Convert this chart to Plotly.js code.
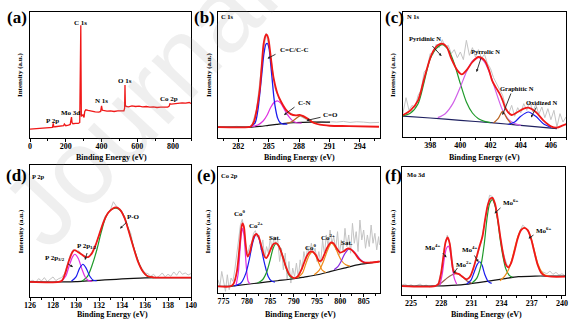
<!DOCTYPE html>
<html><head><meta charset="utf-8">
<script src="https://cdn.plot.ly/plotly-3.0.1.min.js"></script>
<style>html,body{margin:0;padding:0;background:#fff}#chart{width:576px;height:328px}</style>
</head><body><div id="chart"></div>
<script>
// ---------- (a) survey ----------
const a_x = [0,20,40,60,80,100,115,125,130,133,140,160,180,188,192,200,215,225,229,232,235,240,255,270,278,281,283,284,285,287,290,296,302,306,312,325,345,365,385,395,400,404,410,430,450,470,490,510,525,529,531,533,537,550,570,590,610,630,650,670,690,710,730,750,770,778,782,790,810,830,850,870,890,900];
const a_y = [27,28,28,30,29,31,32,32,44,33,34,35,35,37,42,37,39,41,55,63,46,43,44,44,47,160,320,340,230,65,67,70,62,80,85,83,80,79,78,80,97,84,83,81,82,80,82,81,82,90,160,100,95,94,97,95,96,94,95,93,94,92,93,92,93,96,103,102,104,105,106,105,107,104];
const a_labels = ["C 1s","O 1s","N 1s","Co 2p","Mo 3d","P 2p"];

// ---------- (b) C 1s ----------
const b_raw_x = [280.03,280.86,281.84,282.83,283.33,283.82,284.31,284.74,285.14,285.63,286.12,286.78,287.44,288.10,288.76,289.25,289.74,290.24,290.73,291.23,291.72,292.38,293.04,293.70,294.35,295.01,295.90];
const b_raw_y = [34,33,35,33,36,88,218,315,262,150,112,82,70,66,55,50,48,50,47,49,48,50,47,49,48,46,47];
const b_fit_x = [280.0,283.0,283.26,283.56,283.82,284.12,284.31,284.51,284.71,284.81,284.97,285.17,285.37,285.53,285.86,286.22,286.72,287.18,287.67,288.07,288.43,288.92,289.42,290.07,291.03,292.94,295.90];
const b_fit_y = [33,33,35,50,85,145,215,285,310,312,300,255,205,175,135,110,85,72,68,70,66,57,46,40,37,36,34];
const b_cc_x = [283.16,283.65,283.92,284.15,284.35,284.54,284.74,284.87,285.04,285.20,285.37,285.53,285.70,285.89,286.12,286.45,286.85];
const b_cc_y = [34,45,80,140,200,255,283,285,270,225,170,120,85,60,47,42,42];
const b_cn_x = [283.33,283.98,284.48,284.87,285.20,285.53,285.86,286.19,286.58,286.98,287.37,287.77,288.26];
const b_cn_y = [34,40,52,70,92,107,112,105,85,65,52,46,45];
const b_co_x = [286.78,287.28,287.70,288.10,288.49,288.92,289.35,289.74];
const b_co_y = [44,49,59,67,63,55,48,45];
const b_bg_x = [280.03,283.33,284.15,284.97,285.79,286.62,287.44,288.43,289.74,291.06];
const b_bg_y = [33,33,35,38,41,44,46,47,48,48];
const b_labels = ["C 1s","C=C/C-C","C-N","C=O"];

// ---------- (c) N 1s ----------
const c_raw_x = [396.2,396.4,396.6,396.8,397.0,397.2,397.4,397.6,397.8,398.0,398.2,398.4,398.6,398.8,399.0,399.2,399.4,399.6,399.8,400.0,400.2,400.4,400.6,400.8,401.0,401.2,401.4,401.6,401.8,402.0,402.2,402.4,402.6,402.8,403.0,403.2,403.4,403.6,403.8,404.0,404.2,404.4,404.6,404.8,405.0,405.2,405.4,405.6,405.8,406.0,406.2,406.4,406.6,406.8,407.0];
const c_raw_y = [72,118,80,95,88,125,140,195,205,250,248,278,268,292,270,275,250,262,238,255,232,290,245,268,240,262,236,248,220,205,178,160,140,125,92,70,95,62,88,72,100,80,108,75,98,68,90,58,85,52,80,30,70,45,60];
const c_fit_x = [396.15,396.7,397.2,397.6,398.1,398.5,398.8,399.1,399.4,399.8,400.1,400.4,400.8,401.2,401.6,401.9,402.1,402.4,402.6,402.8,403.0,403.4,403.8,404.2,404.5,405.0,405.5,406.0,406.4,406.8,407.1];
const c_fit_y = [65,80,110,175,248,275,280,270,235,200,188,200,225,240,230,200,170,145,130,110,85,66,75,85,88,75,50,32,28,35,40];
const c_pyd_x = [396.15,396.7,397.2,397.6,398.0,398.4,398.8,399.2,399.6,400.0,400.4,400.8,401.2,401.6,402.0];
const c_pyd_y = [63,72,100,165,235,265,277,262,220,160,105,72,55,47,43];
const c_pyr_x = [398.5,399.0,399.5,400.0,400.4,400.8,401.2,401.6,402.0,402.4,402.8,403.2,403.6,404.0];
const c_pyr_y = [58,70,100,150,195,228,238,225,185,130,80,52,40,35];
const c_gra_x = [402.2,402.5,402.8,403.1,403.4];
const c_gra_y = [42,55,77,55,38];
const c_oxi_x = [403.2,403.6,404.0,404.5,405.0,405.5,406.0];
const c_oxi_y = [38,45,62,75,62,40,29];
const c_bg_x = [396.15,398,400,402,404,406.4];
const c_bg_y = [63,57,50,43,35,25];
const c_labels = ["N 1s","Pyridinic N","Pyrrolic N","Graphitic N","Oxidized N"];

// ---------- (d) P 2p ----------
const d_raw_x = [126.0,126.25,126.5,126.75,127.0,127.25,127.5,127.75,128.0,128.25,128.5,128.75,129.0,129.25,129.5,129.75,130.0,130.25,130.5,130.75,131.0,131.25,131.5,131.75,132.0,132.25,132.5,132.75,133.0,133.25,133.5,133.75,134.0,134.25,134.5,134.75,135.0,135.25,135.5,135.75,136.0,136.25,136.5,136.75,137.0,137.25,137.5,137.75,138.0,138.25,138.5,138.75,139.0,139.25,139.5,139.75,140.0];
const d_raw_y = [47,50,44,55,48,58,46,52,60,49,55,58,70,98,125,142,136,138,126,124,118,128,140,160,182,210,240,252,262,285,272,266,252,240,210,192,150,128,100,85,72,70,62,68,58,63,72,60,68,62,75,65,78,68,72,66,70];
const d_fit_x = [126.0,128.5,128.8,129.1,129.4,129.7,129.9,130.2,130.5,130.8,131.1,131.4,131.7,132.0,132.4,132.8,133.2,133.5,133.8,134.2,134.6,135.0,135.4,135.8,136.2,136.7,137.5,140.0];
const d_fit_y = [45,45,50,75,110,135,140,134,127,120,120,132,155,185,225,252,265,268,262,238,195,148,105,77,63,59,58,58];
const d_p32_x = [128.7,129.1,129.4,129.7,129.9,130.2,130.5,130.8,131.1,131.4];
const d_p32_y = [46,62,92,120,128,115,85,60,49,47];
const d_p12_x = [129.6,130.0,130.3,130.6,130.9,131.2,131.5,131.8];
const d_p12_y = [47,60,85,98,85,62,50,49];
const d_po_x = [130.5,131.0,131.4,131.8,132.2,132.6,133.0,133.5,133.9,134.3,134.7,135.1,135.5,135.9,136.3,136.8];
const d_po_y = [47,62,95,140,195,240,260,266,258,230,185,138,98,72,61,58];
const d_bg_x = [126,129,130,131,132,133,134,135,136,137,140];
const d_bg_y = [45,45,46,48,50,52,54,56,57.5,58,58];
const d_labels = ["P 2p","P-O","P 2p<sub>3/2</sub>","P 2p<sub>1/2</sub>"];

// ---------- (e) Co 2p ----------
const e_raw_x = [773.8,774.2,774.6,775.0,775.4,775.8,776.2,776.6,777.0,777.4,777.8,778.2,778.6,779.0,779.4,779.8,780.2,780.6,781.0,781.4,781.8,782.2,782.6,783.0,783.4,783.8,784.2,784.6,785.0,785.4,785.8,786.2,786.6,787.0,787.4,787.8,788.2,788.6,789.0,789.4,789.8,790.2,790.6,791.0,791.4,791.8,792.2,792.6,793.0,793.4,793.8,794.2,794.6,795.0,795.4,795.8,796.2,796.6,797.0,797.4,797.8,798.2,798.6,799.0,799.4,799.8,800.2,800.6,801.0,801.4,801.8,802.2,802.6,803.0,803.4,803.8,804.2,804.6,805.0,805.4,805.8,806.2,806.6,807.0,807.4,807.8,808.2,808.4];
const e_raw_y = [40,20,65,30,5,55,10,45,35,70,110,165,205,222,190,135,120,145,150,180,188,168,175,130,160,105,140,120,165,130,170,145,160,95,135,70,120,40,95,30,75,50,90,45,100,70,125,95,140,115,150,120,135,95,125,90,160,115,175,140,190,150,170,130,185,115,160,125,195,140,175,120,210,150,185,125,220,160,190,135,175,140,205,150,180,130,170,145];
const e_fit_x = [773.72,776.43,777.14,777.85,778.42,778.85,779.06,779.35,779.70,780.13,780.56,781.06,781.56,781.98,782.48,783.13,783.70,784.12,784.69,785.26,785.83,786.26,786.83,787.54,788.33,789.11,790.11,790.97,791.82,792.61,793.32,794.03,794.74,795.46,795.96,796.53,797.24,797.95,798.52,799.23,799.95,800.66,801.51,802.23,803.08,804.01,805.08,806.50,808.43];
const e_fit_y = [20,20,28,65,140,200,210,200,150,110,120,150,172,178,170,140,112,105,118,138,149,150,142,115,80,55,45,52,75,105,122,125,115,97,98,115,138,152,150,135,122,125,134,132,120,102,92,92,95];
const e_co0a_x = [777.64,778.14,778.49,778.78,779.06,779.35,779.63,779.92,780.27,780.70];
const e_co0a_y = [22,60,125,175,195,175,125,70,35,28];
const e_co2a_x = [777.28,778.71,779.78,780.49,781.20,781.70,782.06,782.56,783.13,783.84,784.55,785.26,785.98];
const e_co2a_y = [21,30,60,100,150,172,178,165,130,85,50,36,33];
const e_sata_x = [782.27,783.34,784.27,784.98,785.62,786.26,786.97,787.69,788.40,789.11,789.83];
const e_sata_y = [30,40,65,100,135,150,138,110,75,52,44];
const e_co0b_x = [790.82,791.89,792.61,793.32,794.03,794.74,795.46,796.17,796.88];
const e_co0b_y = [46,60,88,113,125,112,88,68,62];
const e_co2b_x = [794.39,795.46,796.38,797.24,798.09,798.81,799.52,800.23,801.16,802.08];
const e_co2b_y = [55,68,95,128,150,140,118,98,85,81];
const e_satb_x = [798.66,799.52,800.23,800.94,801.87,802.80,803.65,804.51,805.43];
const e_satb_y = [70,80,97,118,133,126,112,98,91];
const e_bg_x = [773.72,776.43,777.64,782.27,786.55,790.11,792.25,795.10,797.95,800.80,803.65,806.50,808.43];
const e_bg_y = [20,20,22,30,37,43,48,55,65,75,85,91,95];
const e_labels = ["Co 2p","Co<sup>0</sup>","Co<sup>2+</sup>","Sat."];

// ---------- (f) Mo 3d ----------
const f_raw_x = [224.1,224.4,224.7,225.0,225.3,225.6,225.9,226.2,226.5,226.8,227.1,227.4,227.7,228.0,228.3,228.6,228.9,229.2,229.5,229.8,230.1,230.4,230.7,231.0,231.3,231.6,231.9,232.2,232.5,232.8,233.1,233.4,233.7,234.0,234.3,234.6,234.9,235.2,235.5,235.8,236.1,236.4,236.7,237.0,237.3,237.6,237.9,238.2,238.5,238.8,239.1,239.4,239.7,240.0,240.3];
const f_raw_y = [30,33,27,31,25,29,33,26,30,24,28,26,35,72,140,180,150,80,68,60,57,48,52,62,88,120,150,200,262,300,296,262,212,148,112,85,92,128,162,192,210,202,188,160,118,88,72,68,64,72,62,68,60,64,58];
const f_fit_x = [224.07,226.05,227.38,227.71,227.98,228.21,228.44,228.64,228.84,229.04,229.24,229.50,229.77,230.10,230.53,230.86,231.19,231.52,231.79,232.09,232.35,232.62,232.88,233.08,233.34,233.61,233.87,234.14,234.40,234.67,234.93,235.27,235.60,235.93,236.26,236.59,236.92,237.25,237.59,237.92,238.31,238.98,240.30];
const f_fit_y = [27,25,27,33,65,115,160,173,155,105,70,65,63,55,47,55,80,115,145,175,225,270,290,292,275,230,175,125,93,83,95,130,170,195,202,195,170,130,90,67,58,55,55];
const f_mo4a_x = [227.88,228.11,228.31,228.51,228.71,228.90,229.10,229.30,229.53];
const f_mo4a_y = [30,65,110,140,147,130,85,50,33];
const f_mo2_x = [227.55,228.04,228.54,229.04,229.53,230.03,230.53,231.03];
const f_mo2_y = [29,37,50,60,65,57,43,35];
const f_mo4b_x = [230.53,230.96,231.29,231.59,231.82,232.05,232.35,232.68,233.01];
const f_mo4b_y = [33,45,70,93,100,90,60,40,35];
const f_mo6a_x = [231.09,231.52,231.95,232.28,232.55,232.81,233.08,233.34,233.61,233.87,234.14,234.40,234.74,235.07];
const f_mo6a_y = [37,50,90,155,230,275,287,270,225,165,115,80,60,53];
const f_mo6b_x = [233.84,234.27,234.67,235.00,235.33,235.66,235.99,236.26,236.59,236.99,237.32,237.65,237.98,238.31,238.71];
const f_mo6b_y = [43,55,75,105,145,180,198,202,195,165,125,90,70,60,57];
const f_bg_x = [224.07,227.38,229.04,230.70,232.35,234.01,235.66,237.32,238.98,240.30];
const f_bg_y = [27,27,29,33,40,48,55,57,57,57];
const f_labels = ["Mo 3d","Mo<sup>4+</sup>","Mo<sup>2+</sup>","Mo<sup>6+</sup>"];

const panel_letters = ["(a)","(b)","(c)","(d)","(e)","(f)"];
const x_title = "Binding Energy (eV)";
const y_title = "Intensity (a.u.)";

// ---------- styling ----------
const W = 576, H = 328;
const PX = x => x / W, PY = y => 1 - y / H;
const SERIF = "Liberation Serif, Times New Roman, serif";
const RED = '#f01818', BLUE = '#1a1aee', MAG = '#e030e0', GREEN = '#1f9a2a', ORANGE = '#ee8c1a',
      BROWN = '#b8621e', GREY = '#c4c4c4', BLACK = '#111', NAVY = '#1e2060', PURPLE = '#8a2be2', MAG2 = '#d060e8', BRN2 = '#9b5a48';

function tr(x, y, color, width, ax, shape) {
  return {x: x, y: y, type: 'scatter', mode: 'lines', xaxis: 'x' + ax, yaxis: 'y' + ax,
          line: {color: color, width: width, shape: shape || 'spline', smoothing: 0.8},
          hoverinfo: 'skip', showlegend: false};
}
const data = [
  tr(a_x, a_y, RED, 1.3, '', 'linear'),

  tr(b_raw_x, b_raw_y, GREY, 1, 2, 'linear'),
  tr(b_bg_x, b_bg_y, BLACK, 1.2, 2),
  tr(b_cn_x, b_cn_y, MAG, 1.2, 2),
  tr(b_co_x, b_co_y, BROWN, 1.2, 2),
  tr(b_cc_x, b_cc_y, BLUE, 1.3, 2),
  tr(b_fit_x, b_fit_y, RED, 1.8, 2),

  tr(c_raw_x, c_raw_y, GREY, 1, 3, 'linear'),
  tr(c_bg_x, c_bg_y, NAVY, 1.2, 3),
  tr(c_pyd_x, c_pyd_y, GREEN, 1.2, 3),
  tr(c_pyr_x, c_pyr_y, MAG2, 1.2, 3),
  tr(c_gra_x, c_gra_y, BROWN, 1.2, 3),
  tr(c_oxi_x, c_oxi_y, BLUE, 1.2, 3),
  tr(c_fit_x, c_fit_y, RED, 1.8, 3),

  tr(d_raw_x, d_raw_y, GREY, 1, 4, 'linear'),
  tr(d_bg_x, d_bg_y, BLACK, 1.2, 4),
  tr(d_po_x, d_po_y, GREEN, 1.2, 4),
  tr(d_p32_x, d_p32_y, MAG, 1.2, 4),
  tr(d_p12_x, d_p12_y, BLUE, 1.2, 4),
  tr(d_fit_x, d_fit_y, RED, 1.8, 4),

  tr(e_raw_x, e_raw_y, GREY, 1, 5, 'linear'),
  tr(e_bg_x, e_bg_y, BLACK, 1.2, 5),
  tr(e_co0a_x, e_co0a_y, MAG, 1.2, 5),
  tr(e_co2a_x, e_co2a_y, BLUE, 1.2, 5),
  tr(e_sata_x, e_sata_y, GREEN, 1.2, 5),
  tr(e_co0b_x, e_co0b_y, ORANGE, 1.2, 5),
  tr(e_co2b_x, e_co2b_y, ORANGE, 1.2, 5),
  tr(e_satb_x, e_satb_y, PURPLE, 1.2, 5),
  tr(e_fit_x, e_fit_y, RED, 1.8, 5),

  tr(f_raw_x, f_raw_y, GREY, 1, 6, 'linear'),
  tr(f_bg_x, f_bg_y, BLACK, 1.2, 6),
  tr(f_mo2_x, f_mo2_y, BRN2, 1.2, 6),
  tr(f_mo4a_x, f_mo4a_y, MAG, 1.2, 6),
  tr(f_mo4b_x, f_mo4b_y, BLUE, 1.2, 6),
  tr(f_mo6a_x, f_mo6a_y, GREEN, 1.2, 6),
  tr(f_mo6b_x, f_mo6b_y, ORANGE, 1.2, 6),
  tr(f_fit_x, f_fit_y, RED, 1.8, 6)
];

// panel frames [left, right, top, bottom] in px, x range, y range, tick0, dtick
const frames = [
  {l: 30, r: 191, t: 12, b: 138, xr: [0, 900], yr: [0, 380], t0: 0, dt: 200},
  {l: 218, r: 380, t: 12, b: 138, xr: [280, 296], yr: [0, 380], t0: 282, dt: 3},
  {l: 403, r: 566, t: 12, b: 137, xr: [396.2, 407.0], yr: [0, 375], t0: 398, dt: 2},
  {l: 30, r: 191, t: 165, b: 297, xr: [126, 140], yr: [0, 395], t0: 126, dt: 2},
  {l: 218, r: 380, t: 167, b: 293, xr: [773.8, 808.5], yr: [0, 380], t0: 775, dt: 5},
  {l: 402, r: 565, t: 167, b: 295, xr: [224.1, 240.3], yr: [0, 385], t0: 225, dt: 3}
];

const layout = {
  width: W, height: H, autosize: false,
  margin: {l: 0, r: 0, t: 0, b: 0, pad: 0},
  paper_bgcolor: '#fff', plot_bgcolor: 'rgba(0,0,0,0)',
  font: {family: SERIF, color: '#000'},
  showlegend: false,
  annotations: []
};
frames.forEach((f, i) => {
  const s = i === 0 ? '' : String(i + 1);
  layout['xaxis' + s] = {
    domain: [PX(f.l), PX(f.r)], range: f.xr, anchor: 'y' + s,
    tick0: f.t0, dtick: f.dt, ticks: 'outside', ticklen: 2.5, tickwidth: 1, tickcolor: '#000',
    ticklabelstandoff: -2,
    minor: {dtick: f.dt / 2, ticks: 'outside', ticklen: 1.5, tickwidth: 1, tickcolor: '#000', showgrid: false},
    showline: true, mirror: true, linecolor: '#000', linewidth: 1,
    showgrid: false, zeroline: false,
    tickfont: {family: SERIF, size: 8, color: '#000', weight: 'bold'}
  };
  layout['yaxis' + s] = {
    domain: [PY(f.b), PY(f.t)], range: f.yr, anchor: 'x' + s,
    showticklabels: false, ticks: '', showline: true, mirror: true, linecolor: '#000', linewidth: 1,
    showgrid: false, zeroline: false
  };
});

function T(text, x, y, size, extra) {
  return Object.assign({text: '<b>' + text + '</b>', xref: 'paper', yref: 'paper', x: PX(x), y: PY(y),
    xanchor: 'center', yanchor: 'middle', showarrow: false,
    font: {family: SERIF, size: size, color: '#000'}}, extra || {});
}
function A(tx, ty, hx, hy) {
  return {text: '', xref: 'paper', yref: 'paper', x: PX(hx), y: PY(hy), axref: 'pixel', ayref: 'pixel',
    ax: tx - hx, ay: ty - hy, showarrow: true, arrowhead: 2, arrowsize: 0.6, arrowwidth: 0.9,
    arrowcolor: '#222', standoff: 0, startstandoff: 0};
}
const ann = layout.annotations;
// watermark
ann.push({text: 'Journal', xref: 'paper', yref: 'paper', x: PX(139), y: PY(103), xanchor: 'center', yanchor: 'middle',
  showarrow: false, textangle: -47,
  font: {family: 'Liberation Sans, Arial, sans-serif', size: 105, color: 'rgba(150,150,150,0.15)'}});

// panel letters, axis titles
const letterPos = [[17, 17], [204, 17], [394, 17], [16, 175], [206, 175], [393, 175]];
panel_letters.forEach((t, i) => ann.push(T(t, letterPos[i][0], letterPos[i][1], 17)));
const xtPos = [[111, 157.5], [299, 157.5], [484, 157.5], [112, 314.5], [300, 314.5], [486, 314.5]];
xtPos.forEach(p => ann.push(T(x_title, p[0], p[1], 8)));
const ytPos = [[20, 75], [209, 75], [393, 75], [20.5, 232], [207.5, 232], [392.5, 232]];
ytPos.forEach(p => ann.push(T(y_title, p[0], p[1], 7, {textangle: -90})));

// (a) labels
const aPos = [[80.3, 22.5], [125.3, 80.7], [101, 100.7], [168.7, 99], [70.7, 113.3], [52.7, 120.7]];
a_labels.forEach((t, i) => ann.push(T(t, aPos[i][0], aPos[i][1], 7)));
// (b)
ann.push(T(b_labels[0], 227, 16, 6.5));
ann.push(T(b_labels[1], 294, 50, 7)); ann.push(A(277, 53.5, 267.5, 58.5));
ann.push(T(b_labels[2], 304, 102.7, 7)); ann.push(A(296, 106, 284, 115));
ann.push(T(b_labels[3], 330, 115, 7)); ann.push(A(322, 117, 306.5, 120.5));
// (c)
ann.push(T(c_labels[0], 413, 16, 6.5));
ann.push(T(c_labels[1], 424.5, 38.5, 6.5)); ann.push(A(431, 44.5, 441.5, 56));
ann.push(T(c_labels[2], 485, 51, 6.5)); ann.push(A(481.5, 56.5, 476.5, 72));
ann.push(T(c_labels[3], 516.7, 88.3, 6.5)); ann.push(A(511.5, 92, 502.5, 115));
ann.push(T(c_labels[4], 542.3, 102.3, 6.5)); ann.push(A(537, 106, 531, 117.5));
// (d)
ann.push(T(d_labels[0], 38, 176, 6.5));
ann.push(T(d_labels[1], 133.3, 216.7, 7)); ann.push(A(128, 221, 120, 228.5));
ann.push(T(d_labels[2], 55, 257.5, 7)); ann.push(A(66.5, 263, 73, 267));
ann.push(T(d_labels[3], 86.5, 246, 7)); ann.push(A(87.5, 251.5, 85, 260));
// (e)
ann.push(T(e_labels[0], 229.7, 175, 6.5));
ann.push(T(e_labels[1], 240, 213.3, 7));
ann.push(T(e_labels[2], 255.7, 225, 7));
ann.push(T(e_labels[3], 275, 237.7, 7));
ann.push(T(e_labels[1], 310.7, 247.3, 7));
ann.push(T(e_labels[2], 328.3, 237.7, 7));
ann.push(T(e_labels[3], 347.3, 242.7, 7));
// (f)
ann.push(T(f_labels[0], 416, 174, 6.5));
ann.push(T(f_labels[1], 433.3, 247.3, 7)); ann.push(A(441.5, 251.5, 446.5, 257.5));
ann.push(T(f_labels[2], 464.3, 264, 7)); ann.push(A(458.5, 266.5, 453.5, 273.5));
ann.push(T(f_labels[1], 470, 249.3, 7)); ann.push(A(473.5, 254, 478.5, 262));
ann.push(T(f_labels[3], 511, 202.7, 7)); ann.push(A(502, 206.5, 494.5, 213.5));
ann.push(T(f_labels[3], 544.3, 230, 7)); ann.push(A(535, 234, 528.5, 238.5));

Plotly.newPlot('chart', data, layout, {staticPlot: true, displayModeBar: false});
</script></body></html>
